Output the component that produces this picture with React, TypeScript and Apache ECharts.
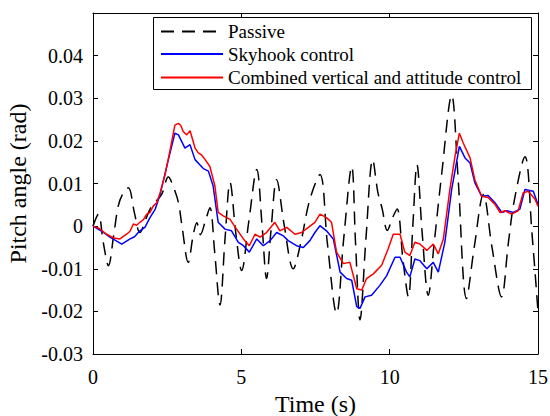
import React, { useEffect, useRef } from "react";
import * as echarts from "echarts";

const xTicks = [0, 5, 10, 15];
const yTickMin = -0.03;
const yTickMax = 0.05;

const passiveT = [0, 0.18, 0.35, 0.52, 0.7, 0.85, 1.0, 1.19, 1.4, 1.58, 1.8, 1.98, 2.31, 2.54, 2.72, 2.88, 3.0, 3.21, 3.38, 3.5, 3.62, 3.78, 3.94, 4.1, 4.28, 4.45, 4.62, 4.82, 5.01, 5.25, 5.52, 5.7, 5.85, 6.0, 6.19, 6.45, 6.75, 7.0, 7.3, 7.65, 7.9, 8.21, 8.45, 8.72, 8.85, 9.0, 9.2, 9.43, 9.6, 9.75, 9.92, 10.1, 10.25, 10.45, 10.63, 10.78, 10.92, 11.1, 11.3, 11.5, 11.75, 12.09, 12.3, 12.59, 12.85, 13.16, 13.45, 13.77, 14.0, 14.2, 14.56, 14.8, 15];
const passiveV = [0, 0.0028, -0.004, -0.0093, -0.002, 0.0047, 0.0075, 0.009, 0.003, -0.0015, 0.002, 0.0047, 0.0074, 0.0115, 0.009, 0.0055, 0, -0.0085, -0.002, 0.0008, -0.002, 0.001, 0.0043, -0.006, -0.0185, -0.003, 0.0102, -0.002, -0.0104, 0.001, 0.0133, 0.0, -0.0123, -0.001, 0.0109, 0.0, -0.01, -0.004, 0.006, 0.0121, -0.004, -0.0205, -0.003, 0.014, -0.004, -0.022, -0.003, 0.0156, 0.008, 0.004, -0.001, 0.002, 0.004, -0.008, -0.0166, 0.0, 0.0144, -0.002, -0.0162, -0.004, 0.012, 0.0307, 0.012, -0.017, -0.005, 0.0074, -0.005, -0.0166, -0.004, 0.006, 0.0163, -0.002, -0.02];

const skyT = [0, 0.3, 0.57, 0.97, 1.25, 1.4, 1.58, 1.75, 1.92, 2.1, 2.26, 2.54, 2.76, 2.88, 3.1, 3.27, 3.44, 3.6, 3.72, 3.89, 4.05, 4.22, 4.45, 4.67, 4.9, 5.07, 5.27, 5.52, 5.74, 5.97, 6.19, 6.42, 6.58, 6.86, 7.09, 7.31, 7.48, 7.65, 7.87, 8.1, 8.33, 8.55, 8.72, 8.89, 9.0, 9.17, 9.39, 9.67, 9.9, 10.18, 10.35, 10.57, 10.68, 10.85, 11.02, 11.25, 11.47, 11.64, 11.86, 12.09, 12.35, 12.54, 12.71, 12.87, 13.1, 13.32, 13.55, 13.78, 13.95, 14.17, 14.39, 14.56, 14.84, 15];
const skyV = [0, -0.0012, -0.0026, -0.0042, -0.003, -0.0025, -0.0011, -0.0003, 0.002, 0.004, 0.0074, 0.0156, 0.0218, 0.0214, 0.0183, 0.0191, 0.0156, 0.0144, 0.0135, 0.0129, 0.0094, 0.0009, -0.0007, -0.0011, -0.0038, -0.0046, -0.0061, -0.003, -0.0046, -0.0034, -0.0015, -0.0023, -0.0034, -0.0046, -0.005, -0.0034, -0.0015, 0.0001, -0.0011, -0.003, -0.0108, -0.0123, -0.0127, -0.0189, -0.0193, -0.0166, -0.0162, -0.0139, -0.0116, -0.0073, -0.0073, -0.0108, -0.0119, -0.0077, -0.0081, -0.01, -0.0085, -0.0108, -0.0038, 0.0086, 0.0187, 0.016, 0.0148, 0.0102, 0.007, 0.0072, 0.0055, 0.0032, 0.0036, 0.0032, 0.004, 0.0086, 0.0082, 0.0051];

const combT = [0, 0.2, 0.46, 0.7, 0.91, 1.13, 1.25, 1.36, 1.47, 1.58, 1.7, 1.81, 1.92, 2.03, 2.15, 2.26, 2.43, 2.6, 2.76, 2.88, 2.96, 3.04, 3.16, 3.27, 3.35, 3.44, 3.55, 3.66, 3.78, 3.94, 4.05, 4.11, 4.22, 4.39, 4.62, 4.84, 5.07, 5.27, 5.46, 5.63, 5.85, 6.13, 6.3, 6.53, 6.81, 7.03, 7.26, 7.48, 7.65, 7.87, 8.04, 8.21, 8.44, 8.66, 8.89, 9.06, 9.22, 9.45, 9.73, 9.95, 10.12, 10.35, 10.51, 10.68, 10.85, 11.02, 11.25, 11.47, 11.64, 11.81, 12.03, 12.2, 12.35, 12.48, 12.71, 12.87, 13.1, 13.32, 13.55, 13.72, 13.89, 14.11, 14.33, 14.5, 14.67, 14.9, 15];
const combV = [0, -0.0005, -0.0019, -0.0028, -0.003, -0.0019, -0.0012, 0.0005, 0.0002, 0.0009, 0.0015, 0.0028, 0.0032, 0.0047, 0.0055, 0.0078, 0.0121, 0.0179, 0.0237, 0.0241, 0.0236, 0.0222, 0.0214, 0.0224, 0.0205, 0.0183, 0.0172, 0.0167, 0.0156, 0.014, 0.011, 0.0094, 0.0032, 0.0024, 0.0016, -0.0007, -0.003, -0.0046, -0.0019, -0.0026, -0.0015, 0.0009, -0.0011, -0.0003, -0.0019, -0.0015, -0.0003, 0.0009, 0.0028, 0.002, 0.0009, -0.0061, -0.0088, -0.0085, -0.0147, -0.015, -0.0123, -0.0112, -0.0092, -0.0053, -0.0019, -0.0019, -0.0061, -0.0069, -0.0038, -0.0042, -0.0057, -0.0042, -0.0065, -0.003, 0.0086, 0.0163, 0.0218, 0.0195, 0.016, 0.0109, 0.007, 0.0067, 0.0051, 0.0032, 0.0036, 0.0028, 0.0036, 0.0078, 0.0082, 0.0063, 0.0047];

const seriesNames = ["Passive", "Skyhook control", "Combined vertical and attitude control"];

const FONT = "Liberation Serif";

const zip = (t: number[], v: number[]) => t.map((x, i) => [x, v[i]]);

export default function App() {
  const ref = useRef<HTMLDivElement>(null);
  useEffect(() => {
    if (!ref.current) return;
    const chart = echarts.init(ref.current, undefined, { renderer: "svg" });
    const tickStyle = { show: true, inside: true, length: 5, lineStyle: { color: "#000", width: 1 } };
    const lineStyle = { color: "#000", width: 1 };
    const legendBase = {
      left: 160,
      orient: "horizontal" as const,
      padding: 0,
      itemWidth: 62,
      itemHeight: 19,
      itemGap: 0,
      selectedMode: false,
      z: 12,
      itemStyle: { opacity: 0 },
      textStyle: { fontFamily: FONT, fontSize: 19, color: "#000", lineHeight: 19 },
    };
    chart.setOption({
      animation: false,
      backgroundColor: "#fff",
      textStyle: { fontFamily: FONT },
      grid: { left: 93, right: 12, top: 13, bottom: 62, containLabel: false, outerBoundsMode: "none" },
      xAxis: [
        {
          type: "value",
          min: xTicks[0],
          max: xTicks[xTicks.length - 1],
          interval: 5,
          name: "Time (s)",
          nameLocation: "middle",
          nameGap: 37,
          nameTextStyle: { fontFamily: FONT, fontSize: 24, color: "#000" },
          axisLine: { show: true, onZero: false, lineStyle },
          axisTick: tickStyle,
          splitLine: { show: false },
          axisLabel: { fontFamily: FONT, fontSize: 20, color: "#000", margin: 13 },
        },
        {
          type: "value",
          position: "top",
          min: xTicks[0],
          max: xTicks[xTicks.length - 1],
          interval: 5,
          axisLine: { show: true, onZero: false, lineStyle },
          axisTick: tickStyle,
          splitLine: { show: false },
          axisLabel: { show: false },
        },
      ],
      yAxis: [
        {
          type: "value",
          min: yTickMin,
          max: yTickMax,
          interval: 0.01,
          name: "Pitch angle (rad)",
          nameLocation: "middle",
          nameGap: 56,
          nameTextStyle: { fontFamily: FONT, fontSize: 24, color: "#000" },
          axisLine: { show: true, onZero: false, lineStyle },
          axisTick: tickStyle,
          splitLine: { show: false },
          axisLabel: {
            fontFamily: FONT,
            fontSize: 20,
            color: "#000",
            margin: 10,
            formatter: (v: number) => (Math.abs(v - yTickMax) < 1e-9 ? "" : String(Math.round(v * 100) / 100)),
          },
        },
        {
          type: "value",
          position: "right",
          min: yTickMin,
          max: yTickMax,
          interval: 0.01,
          axisLine: { show: true, onZero: false, lineStyle },
          axisTick: tickStyle,
          splitLine: { show: false },
          axisLabel: { show: false },
        },
      ],
      graphic: [
        {
          type: "rect",
          z: 10,
          shape: { x: 153.5, y: 17.5, width: 378, height: 72 },
          style: { fill: "#fff", stroke: "#000", lineWidth: 1 },
        },
      ],
      legend: [
        { ...legendBase, top: 22, data: [seriesNames[0]] },
        { ...legendBase, top: 44.5, data: [seriesNames[1]] },
        { ...legendBase, top: 68, data: [seriesNames[2]] },
      ],
      series: [
        {
          name: seriesNames[0],
          type: "line",
          data: zip(passiveT, passiveV),
          showSymbol: false,
          symbol: "none",
          smooth: 0.35,
          lineStyle: { color: "#000", width: 1.5, type: [13, 8] },
          itemStyle: { color: "#000" },
          z: 2,
        },
        {
          name: seriesNames[1],
          type: "line",
          data: zip(skyT, skyV),
          showSymbol: false,
          symbol: "none",
          lineStyle: { color: "#0000ff", width: 1.5 },
          itemStyle: { color: "#0000ff" },
          z: 3,
        },
        {
          name: seriesNames[2],
          type: "line",
          data: zip(combT, combV),
          showSymbol: false,
          symbol: "none",
          lineStyle: { color: "#ff0000", width: 1.5 },
          itemStyle: { color: "#ff0000" },
          z: 4,
        },
      ],
    });
    return () => chart.dispose();
  }, []);
  return <div ref={ref} style={{ width: 550, height: 416, position: "fixed", left: 0, top: 0 }} />;
}
